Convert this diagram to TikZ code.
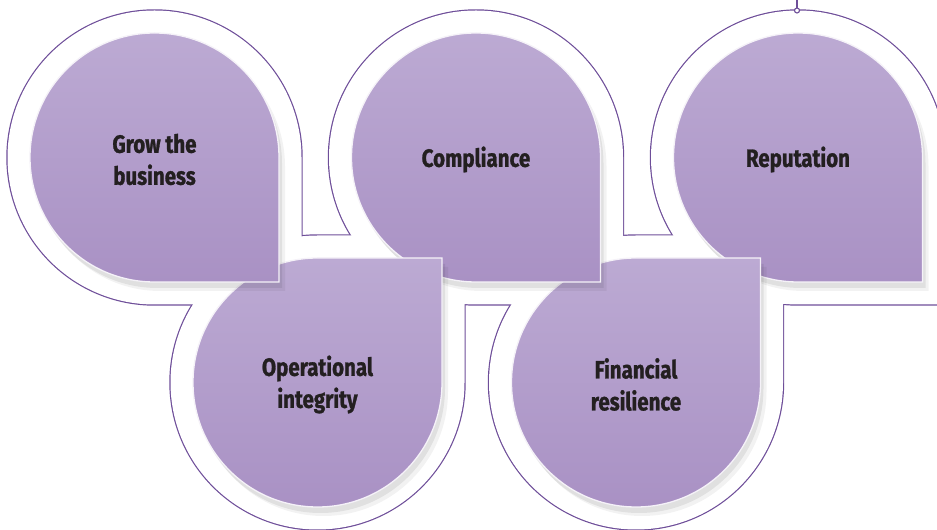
\documentclass[tikz,border=0pt]{standalone}
\usepackage{fontspec}
\setmainfont{Fira Sans}[FakeStretch=0.82,BoldFeatures={FakeBold=1.1}]
\usetikzlibrary{positioning}
\definecolor{petalink}{HTML}{231F20}
\definecolor{petalline}{HTML}{6E4E99}
\definecolor{petallight}{HTML}{BCAAD3}
\definecolor{petalmid}{HTML}{B7A3CF}
\definecolor{petaldark}{HTML}{A991C4}
% petal outlines: square corner bottom right (top row) or top right (low row)
\newcommand{\toppath}[3]{(#1+#3,#2) -- (#1+#3,#2-#3) -- (#1,#2-#3) arc[start angle=270,end angle=0,radius=#3] -- cycle}
\newcommand{\lowpath}[3]{(#1+#3,#2) -- (#1+#3,#2+#3) -- (#1,#2+#3) arc[start angle=90,end angle=360,radius=#3] -- cycle}
\newcommand{\petal}[5]{%
  \fill[black,opacity=.07] [xshift=3,yshift=-6] #1{#2}{#3}{124.5};
  \fill[black,opacity=.05] [xshift=6,yshift=-9] #1{#2}{#3}{124.5};
  \shadedraw[top color=petallight,middle color=petalmid,bottom color=petaldark,
    draw=white!85!petallight,line width=1.3] #1{#2}{#3}{124.5};
  \node[petaltext] (#4) at (#2,#3-2) {#5};
}

\begin{document}
\begin{tikzpicture}[x=1pt,y=1pt,
    petaltext/.style={align=center,text=petalink,font=\fontsize{25}{32}\selectfont\bfseries}]
        \clip (0,0) rectangle (937,530);
        % white ground with purple outer rim
        \foreach \cx/\cy in {154.5/372.5,476/372.5,798/372.5}
          \draw[petalline,line width=2.4] \toppath{\cx}{\cy}{147};
        \foreach \cx/\cy in {317.5/147.5,636/147.5}
          \draw[petalline,line width=2.4] \lowpath{\cx}{\cy}{147};
        \foreach \cx/\cy in {154.5/372.5,476/372.5,798/372.5}
          \fill[white] \toppath{\cx}{\cy}{147};
        \foreach \cx/\cy in {317.5/147.5,636/147.5}
          \fill[white] \lowpath{\cx}{\cy}{147};
        % hanging pin
        \coordinate (pin) at (797,519.5);
        \coordinate (pintop) at (797,530);
        \draw[petalline,line width=1.1] (pintop) -- ([yshift=2.5]pin);
        \draw[petalline,fill=white,line width=1.1] (pin) circle[radius=2.5];
        % petals, back to front
        \petal{\toppath}{798}{372.5}{reputation}{Reputation}
        \petal{\lowpath}{636}{147.5}{financial}{Financial\\resilience}
        \petal{\toppath}{476}{372.5}{compliance}{Compliance}
        \petal{\lowpath}{317.5}{147.5}{operational}{Operational\\integrity}
        \petal{\toppath}{154.5}{372.5}{grow}{Grow the\\business}
      \end{tikzpicture}
\end{document}
